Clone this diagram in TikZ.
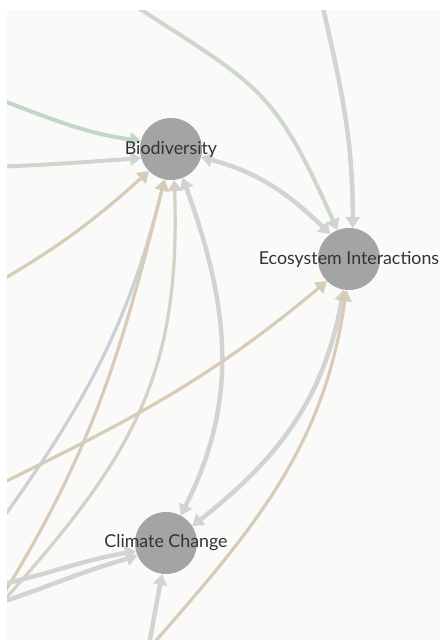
\documentclass[tikz,border=0pt]{standalone}
\usepackage{fontspec}
\setmainfont{Lato}
\usetikzlibrary{arrows.meta}
\definecolor{paper}{HTML}{FAFAF8}
\definecolor{hubgray}{HTML}{A4A4A4}
\definecolor{labelgray}{HTML}{333333}
\definecolor{linkgray}{HTML}{D3D3D3}
\definecolor{linkgreen}{HTML}{C3D6C8}
\definecolor{linkgreengray}{HTML}{CDD7D0}
\definecolor{linktan}{HTML}{D8CCB8}
\definecolor{linktangray}{HTML}{D6D0C6}
\definecolor{linkblue}{HTML}{CBCFD9}
\pgfdeclarelayer{bg}
\pgfdeclarelayer{links}
\pgfsetlayers{bg,links,main}

\begin{document}
\begin{tikzpicture}[x=1pt,y=1pt,
		hub/.style={circle,fill=hubgray,minimum size=62pt,inner sep=0pt},
		every label/.style={font=\fontsize{17.8}{20}\selectfont,text=labelgray,inner sep=0pt},
		tip/.style={-{Triangle[length=11pt,width=14pt]}},
		link/.style={line width=4.5pt,draw=linkgray,tip},
		twoway/.style={link,{Triangle[length=11pt,width=14pt]}-{Triangle[length=11pt,width=14pt]}},
		thinlink/.style={link,line width=3.2pt}]
		%%%%% START %%%%%
		
		\useasboundingbox (0,0) rectangle (440,-640);
		\begin{pgfonlayer}{bg}
			\fill[white] (0,0) rectangle (440,-640);
			\fill[paper] (7,-10) rectangle (440,-640);
		\end{pgfonlayer}
		
		\node[hub, label={center:Biodiversity}] (bio) at (171,-149) {};
		\node[hub, label={center:Ecosystem Interactions}] (eco) at (349,-259) {};
		\node[hub, label={center:Climate Change}] (clim) at (166,-543) {};
		
		% loose ends outside the frame
		\coordinate (top green) at (126,0);
		\coordinate (top gray) at (320,5);
		\coordinate (left green) at (-10,-96);
		\coordinate (left greengray) at (-10,-167);
		\coordinate (left tan) at (-10,-287);
		\coordinate (left blue) at (-5,-529);
		\coordinate (low tan a) at (-2,-603);
		\coordinate (low tan b) at (-3,-608);
		\coordinate (low tan c) at (-10,-489);
		\coordinate (low gray a) at (-10,-587);
		\coordinate (low gray b) at (-10,-606);
		\coordinate (bottom gray) at (146,-660);
		\coordinate (bottom tan) at (140,-659);
		
		\begin{pgfonlayer}{links}
			\clip (7,-10) rectangle (440,-640);
			
			\draw[link, draw=linkgreengray, line width=4pt] (top green) to[out=-33, in=114, looseness=1.3] (eco.112);
			\draw[link] (top gray) to[out=-77, in=90] (eco.83);
			\draw[twoway] (bio.-15) to[out=-15, in=136] (eco.127);
			
			\draw[link, draw=linkgreen, line width=4pt] (left green) to[out=-20, in=172] (bio.165);
			\draw[link, draw=linkgreengray, line width=4pt] (left greengray) to[out=2, in=184] (bio.197);
			\draw[thinlink, draw=linktan] (left tan) to[out=30, in=222] (bio.225);
			
			\draw[thinlink, draw=linkblue] (left blue) to[out=54, in=256] (bio.258);
			\draw[thinlink, draw=linktan] (low tan a) to[out=58, in=256] (bio.258);
			\draw[thinlink, draw=linktangray] (low tan b) to[out=48, in=272, looseness=1.1] (bio.276);
			\draw[twoway] (bio.292) to[out=-70, in=63] (clim.62);
			
			\draw[twoway] (eco.260) to[out=-100, in=38] (clim.33);
			\draw[thinlink, draw=linktan] (bottom tan) to[out=49, in=262] (eco.265);
			\draw[thinlink, draw=linktan] (low tan c) to[out=26, in=220] (eco.225);
			
			\draw[link] (low gray a) to[out=12, in=190] (clim.195);
			\draw[link] (low gray b) to[out=18, in=196] (clim.204);
			\draw[link] (bottom gray) to[out=79, in=259] (clim.263);
		\end{pgfonlayer}
		
		%%%%% END %%%%%
\end{tikzpicture}
\end{document}
